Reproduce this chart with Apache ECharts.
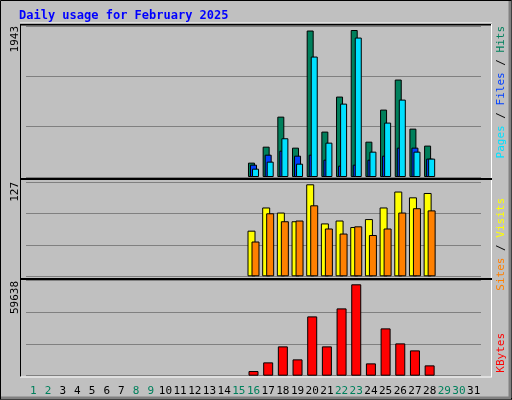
<!DOCTYPE html>
<html><head><meta charset="utf-8">
<script src="https://cdn.jsdelivr.net/npm/echarts@6/dist/echarts.min.js"></script>
<style>html,body{margin:0;padding:0;background:#c0c0c0}#c{width:512px;height:400px}</style>
</head><body><div id="c"></div>
<script>
const days = Array.from({length:31},(_, i)=>String(i+1));
const weekendDays = ['1','2','8','9','15','16','22','23','29','30'];
const hits  = [0,0,0,0,0,0,0,0,0,0,0,0,0,0,0,190,401,798,388,1936,600,1063,1943,467,891,1288,639,415,0,0,0];
const files = [0,0,0,0,0,0,0,0,0,0,0,0,0,0,0,163,295,348,282,295,229,150,163,229,282,388,388,243,0,0,0];
const pages = [0,0,0,0,0,0,0,0,0,0,0,0,0,0,0,110,203,512,176,1592,454,970,1843,335,719,1023,335,243,0,0,0];
const visits= [0,0,0,0,0,0,0,0,0,0,0,0,0,0,0,63,95,88,76,127,73,77,68,79,95,117,109,115,0,0,0];
const sites = [0,0,0,0,0,0,0,0,0,0,0,0,0,0,0,48,87,76,77,98,66,59,69,57,66,88,94,91,0,0,0];
const kbytes= [0,0,0,0,0,0,0,0,0,0,0,0,0,0,0,3044,8696,19131,10652,38697,19131,43915,59638,8044,30870,21088,16522,6739,0,0,0];
const maxLabels = ['1943','127','59638'];

const F = 'DejaVu Sans Mono';
const chart = echarts.init(document.getElementById('c'));
const gx = {left:26, right:31};
const grids = [
  {left:gx.left, right:gx.right, top:26, height:151},
  {left:gx.left, right:gx.right, top:181.8, height:94.5},
  {left:gx.left, right:gx.right, top:280.3, height:95.4}
];
const maxes = [1943*151/147, 127*94.5/92, 59638*95.4/91.4];
const xAxes = grids.map((g,i)=>({type:'category', gridIndex:i, data:days,
  axisLine:{show:false}, axisTick:{show:false},
  axisLabel:{show:i===2, interval:0, margin:10, fontFamily:F, fontSize:11,
    color:(v)=>weekendDays.includes(v)?'#00805c':'#000'}}));
const yAxes = grids.map((g,i)=>({type:'value', gridIndex:i, min:0, max:maxes[i], interval:maxes[i]/3,
  axisLabel:{show:false}, axisLine:{show:false}, axisTick:{show:false},
  splitLine:{show:true, lineStyle:{color:'#808080', width:1}}}));
const bs = (name,data,color,idx,w,gap,z)=>({name, type:'bar', data:data.map(v=>v>0?v:'-'), xAxisIndex:idx, yAxisIndex:idx,
  barWidth:w, barGap:gap, z, itemStyle:{color, borderColor:'#000', borderWidth:1}, silent:true});
const series = [
  bs('Hits',hits,'#00805c',0,7,'-71%',2),
  bs('Files',files,'#0040ff',0,7,'-71%',3),
  bs('Pages',pages,'#00e0ff',0,7,'-71%',4),
  bs('Visits',visits,'#ffff00',1,8,'-50%',2),
  bs('Sites',sites,'#ff8000',1,8,'-50%',3),
  bs('KBytes',kbytes,'#ff0000',2,10,'0%',2)
];
const ln = (x1,y1,x2,y2,c,w)=>({type:'line', shape:{x1,y1,x2,y2}, style:{stroke:c, lineWidth:w||1}, z:10, silent:true});
const rt = (x,y,rich,text)=>({type:'text', x, y, rotation:Math.PI/2, z:11,
  style:{text, rich, align:'right', verticalAlign:'middle', font:'11px '+F, fill:'#000'}});
const R = c=>({fill:c, font:'11px '+F});
const graphic = [
  {type:'rect', shape:{x:0.5,y:0.5,width:511,height:399}, style:{fill:'none', stroke:'#000'}, z:9},
  ln(1,398,511,398,'#808080',3), ln(510,1,510,398,'#808080',3),
  ln(20,24.5,492,24.5,'#000',2), ln(20,23,492,23,'#fff',1),
  ln(20.5,24,20.5,377,'#000',1), ln(491.5,24,491.5,377,'#fff',1),
  ln(20,377,492,377,'#fff',1),
  ln(20,179,492,179,'#000',2), ln(20,279,492,279,'#000',2),
  {type:'text', x:19, y:16, z:11, style:{text:'Daily usage for February 2025', fill:'#0000ff', font:'bold 12px '+F, verticalAlign:'middle'}},
  rt(15,26,{},maxLabels[0]), rt(15,182,{},maxLabels[1]), rt(15,281,{},maxLabels[2]),
  rt(501,26,{p:R('#00e0ff'),f:R('#0040ff'),h:R('#00805c'),s:R('#000')},'{p|Pages}{s| / }{f|Files}{s| / }{h|Hits}'),
  rt(501,198,{v:R('#ffff00'),t:R('#ff8000'),s:R('#000')},'{t|Sites}{s| / }{v|Visits}'),
  rt(501,333,{k:R('#ff0000')},'{k|KBytes}')
];
chart.setOption({animation:false, backgroundColor:'#c0c0c0', grid:grids, xAxis:xAxes, yAxis:yAxes, series, graphic});
</script></body></html>
